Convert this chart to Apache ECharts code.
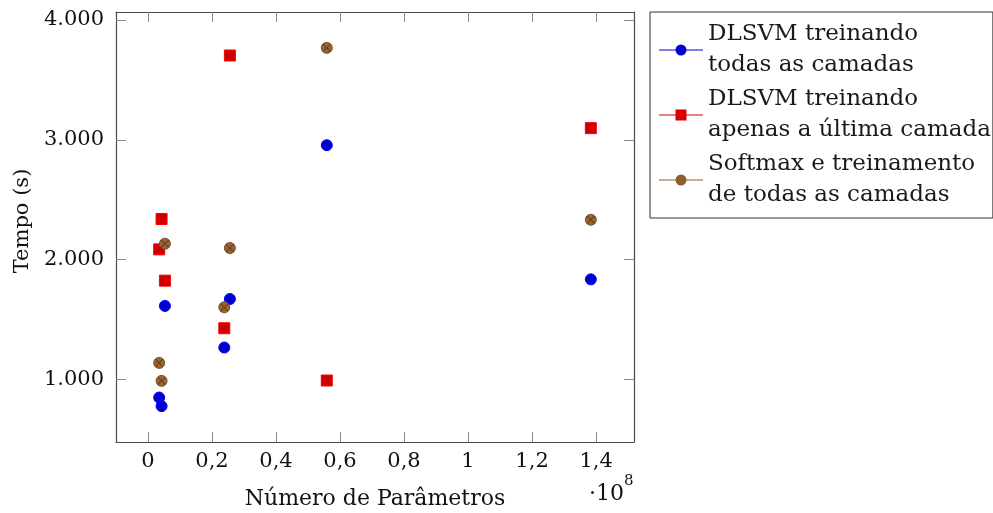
<!DOCTYPE html>
<html>
<head>
<meta charset="utf-8">
<title>Tempo de treinamento x número de parâmetros</title>
<script src="https://cdn.jsdelivr.net/npm/echarts@6/dist/echarts.min.js"></script>
<style>
  html, body { margin: 0; padding: 0; background: #fff; }
  #chart { width: 993px; height: 513px; }
</style>
</head>
<body>
<div id="chart"></div>
<script>
// Number of parameters of each network (in units of 1e8)
const paramCounts = [0.035, 0.0425, 0.053, 0.2385, 0.256, 0.5587, 1.3836];

// Training time (s) per network
const dlsvmAllLayers = [850, 778, 1614, 1267, 1672, 2955, 1836];
const dlsvmLastLayer = [2086, 2339, 1825, 1428, 3703, 992, 3097];
const softmaxAllLayers = [1139, 989, 2133, 1603, 2097, 3767, 2333];

// Series names (two-line legend entries)
const seriesNames = [
  'DLSVM treinando\ntodas as camadas',
  'DLSVM treinando\napenas a última camada',
  'Softmax e treinamento\nde todas as camadas'
];

// Tick positions
const xTicks = [0, 0.2, 0.4, 0.6, 0.8, 1, 1.2, 1.4];
const yTicks = [1000, 2000, 3000, 4000];

const xName = 'Número de Parâmetros';
const yName = 'Tempo (s)';

const FONT = 'DejaVu Serif';

function pairs(xs, ys) {
  return xs.map((x, i) => [x, ys[i]]);
}

// Axis extent: data range enlarged by 10 % on each side
function enlarged(values) {
  const lo = Math.min.apply(null, values);
  const hi = Math.max.apply(null, values);
  const pad = (hi - lo) * 0.1;
  return [lo - pad, hi + pad];
}
const xExtent = enlarged(paramCounts);
const yExtent = enlarged(dlsvmAllLayers.concat(dlsvmLastLayer, softmaxAllLayers));

const fmtX = v => String(v).replace('.', ',');
const fmtY = v => {
  const k = Math.floor(v / 1000);
  const r = String(Math.round(v % 1000)).padStart(3, '0');
  return k + '.' + r;
};

const frame = { show: true, onZero: false, lineStyle: { color: '#4a4a4a', width: 1.2 } };
const tickStyle = { color: '#8a8a8a', width: 1 };

// Legend icons: short line with the marker in the middle
const iconCircle = 'path://M0,5 L44,5 L44,6 L0,6 Z M27.5,5.5 A5.5,5.5 0 1,1 16.5,5.5 A5.5,5.5 0 1,1 27.5,5.5 Z';
const iconSquare = 'path://M0,5 L44,5 L44,6 L0,6 Z M16.5,0 L27.5,0 L27.5,11 L16.5,11 Z';
// Cross drawn on top of the brown circles (rotated plus sign)
const crossPath = 'path://M4.6,0 L5.4,0 L5.4,4.6 L10,4.6 L10,5.4 L5.4,5.4 L5.4,10 L4.6,10 L4.6,5.4 L0,5.4 L0,4.6 L4.6,4.6 Z';

const chart = echarts.init(document.getElementById('chart'), null, { renderer: 'canvas' });

chart.setOption({
  animation: false,
  backgroundColor: '#ffffff',
  textStyle: { fontFamily: FONT },
  grid: { left: 116, top: 12, width: 518, height: 430, containLabel: false, outerBoundsMode: 'none' },
  legend: {
    orient: 'vertical',
    left: 650,
    top: 12,
    padding: [7, 2, 7, 9],
    itemGap: 3,
    itemWidth: 44,
    itemHeight: 11,
    borderColor: '#333',
    borderWidth: 1,
    backgroundColor: '#fff',
    selectedMode: false,
    textStyle: { fontFamily: FONT, fontSize: 23, lineHeight: 31, color: '#1a1a1a' },
    data: [
      { name: seriesNames[0], icon: iconCircle, itemStyle: { color: '#0000d8', borderWidth: 0 } },
      { name: seriesNames[1], icon: iconSquare, itemStyle: { color: '#d80000', borderWidth: 0 } },
      { name: seriesNames[2], icon: iconCircle, itemStyle: { color: '#8f5f30', borderWidth: 0 } }
    ]
  },
  xAxis: [
    {
      type: 'value',
      position: 'bottom',
      min: xExtent[0],
      max: xExtent[1],
      axisLine: frame,
      splitLine: { show: false },
      axisTick: { show: true, inside: true, length: 10, lineStyle: tickStyle, customValues: xTicks },
      axisLabel: {
        show: true, margin: 9, color: '#111', fontFamily: FONT, fontSize: 21,
        customValues: xTicks, formatter: fmtX
      },
      name: xName,
      nameLocation: 'middle',
      nameGap: 46,
      nameTextStyle: { fontFamily: FONT, fontSize: 22, color: '#111' }
    },
    {
      type: 'value',
      position: 'top',
      min: xExtent[0],
      max: xExtent[1],
      axisLine: frame,
      splitLine: { show: false },
      axisTick: { show: true, inside: true, length: 10, lineStyle: tickStyle, customValues: xTicks },
      axisLabel: { show: false }
    }
  ],
  yAxis: [
    {
      type: 'value',
      position: 'left',
      min: yExtent[0],
      max: yExtent[1],
      axisLine: frame,
      splitLine: { show: false },
      axisTick: { show: true, inside: true, length: 10, lineStyle: tickStyle, customValues: yTicks },
      axisLabel: {
        show: true, margin: 12, color: '#111', fontFamily: FONT, fontSize: 21,
        customValues: yTicks, formatter: fmtY
      },
      name: yName,
      nameLocation: 'middle',
      nameGap: 82,
      nameRotate: 90,
      nameTextStyle: { fontFamily: FONT, fontSize: 21, color: '#111', padding: [0, 0, 0, 12] }
    },
    {
      type: 'value',
      position: 'right',
      min: yExtent[0],
      max: yExtent[1],
      axisLine: frame,
      splitLine: { show: false },
      axisTick: { show: true, inside: true, length: 10, lineStyle: tickStyle, customValues: yTicks },
      axisLabel: { show: false }
    }
  ],
  series: [
    {
      name: seriesNames[0],
      type: 'scatter',
      symbol: 'circle',
      symbolSize: 11,
      itemStyle: { color: '#0000cc', borderColor: '#0000ff', borderWidth: 1, opacity: 1 },
      data: pairs(paramCounts, dlsvmAllLayers)
    },
    {
      name: seriesNames[1],
      type: 'scatter',
      symbol: 'rect',
      symbolSize: 11,
      itemStyle: { color: '#cc0000', borderColor: '#ff0000', borderWidth: 1, opacity: 1 },
      data: pairs(paramCounts, dlsvmLastLayer)
    },
    {
      name: seriesNames[2],
      type: 'scatter',
      symbol: 'circle',
      symbolSize: 11,
      itemStyle: { color: '#996633', borderColor: '#7a5128', borderWidth: 1, opacity: 1 },
      data: pairs(paramCounts, softmaxAllLayers)
    },
    {
      name: 'softmax-cross',
      type: 'scatter',
      symbol: crossPath,
      symbolRotate: 45,
      symbolSize: 11,
      silent: true,
      itemStyle: { color: '#5a3a1a', opacity: 1 },
      data: pairs(paramCounts, softmaxAllLayers),
      z: 3
    }
  ],
  graphic: [
    {
      type: 'text',
      left: 589,
      top: 483,
      style: { text: '·10', font: '22px "DejaVu Serif"', fill: '#111' }
    },
    {
      type: 'text',
      left: 624,
      top: 474,
      style: { text: '8', font: '15px "DejaVu Serif"', fill: '#111' }
    }
  ]
});
</script>
</body>
</html>
